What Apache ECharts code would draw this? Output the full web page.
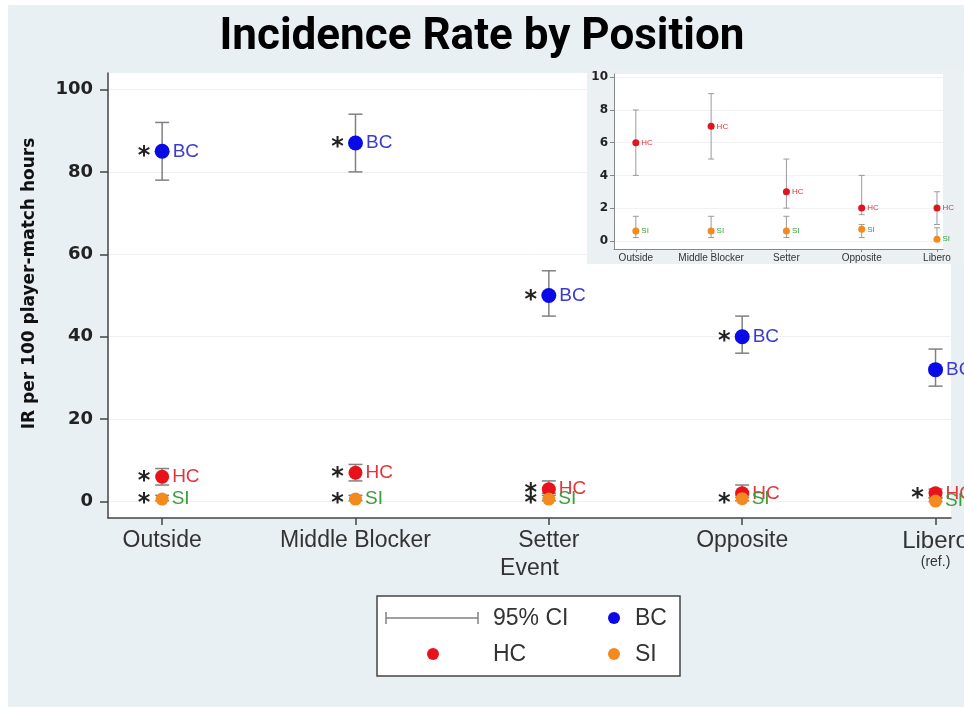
<!DOCTYPE html>
<html>
<head>
<meta charset="utf-8">
<title>Incidence Rate by Position</title>
<script src="https://cdn.jsdelivr.net/npm/echarts@6/dist/echarts.min.js"></script>
<style>
  html, body { margin: 0; padding: 0; background: #ffffff; }
  #chart { width: 964px; height: 707px; }
</style>
</head>
<body>
<div id="chart"></div>
<script>
// positions on the x axis
var categories = ['Outside', 'Middle Blocker', 'Setter', 'Opposite', 'Libero'];
var yTicks = [0, 20, 40, 60, 80, 100];
var insetTicks = [0, 2, 4, 6, 8, 10];

// incidence rate per 100 player-match hours, with 95% CI
var bcRate = [85, 87, 50, 40, 32];
var bcLow = [78, 80, 45, 36, 28];
var bcHigh = [92, 94, 56, 45, 37];

var hcRate = [6, 7, 3, 2, 2];
var hcLow = [4, 5, 2, 1.6, 1];
var hcHigh = [8, 9, 5, 4, 3];

var siRate = [0.6, 0.6, 0.6, 0.7, 0.1];
var siLow = [0.2, 0.2, 0.2, 0.2, 0];
var siHigh = [1.5, 1.5, 1.5, 1.0, 0.8];

// significance marks (*) against the reference position
var bcStar = [1, 1, 1, 1, 0];
var hcStar = [1, 1, 1, 0, 1];
var siStar = [1, 1, 1, 1, 0];

var chart = echarts.init(document.getElementById('chart'));

function points(rate) {
  return rate.map(function (v, i) { return [i, v]; });
}
function ci(low, high) {
  return low.map(function (v, i) { return [i, v, high[i]]; });
}
function stars(rate, flags) {
  var out = [];
  flags.forEach(function (f, i) { if (f) out.push([i, rate[i]]); });
  return out;
}

// error bar drawing
function errorBar(cap, color, width) {
  return function (params, api) {
    var x = api.value(0);
    var p1 = api.coord([x, api.value(1)]);
    var p2 = api.coord([x, api.value(2)]);
    var st = { stroke: color, lineWidth: width };
    return {
      type: 'group',
      children: [
        { type: 'line', shape: { x1: p1[0], y1: p1[1], x2: p2[0], y2: p2[1] }, style: st },
        { type: 'line', shape: { x1: p1[0] - cap, y1: p1[1], x2: p1[0] + cap, y2: p1[1] }, style: st },
        { type: 'line', shape: { x1: p2[0] - cap, y1: p2[1], x2: p2[0] + cap, y2: p2[1] }, style: st }
      ]
    };
  };
}

function starRender(params, api) {
  var p = api.coord([api.value(0), api.value(1)]);
  return {
    type: 'text',
    style: {
      text: '*', x: p[0] - 18, y: p[1] + 5,
      fill: '#222', font: 'bold 24px "DejaVu Sans"',
      align: 'center', verticalAlign: 'middle'
    }
  };
}

var colBC = '#0a0ae6', colHC = '#e8121b', colSI = '#f28a1e';
var labBC = '#3b3bd0', labHC = '#e3343a', labSI = '#3c9c3c';

function scatter(name, data, color, labColor, size, fontSize, xi, z) {
  return {
    name: name, type: 'scatter', xAxisIndex: xi, yAxisIndex: xi, z: z,
    data: data, symbolSize: size, itemStyle: { color: color, opacity: 1 },
    label: {
      show: true, position: 'right', distance: xi ? 2 : 3,
      formatter: name, color: labColor, fontSize: fontSize,
      fontFamily: 'Liberation Sans'
    },
    emphasis: { disabled: true }
  };
}

function bars(data, xi, cap, color, width, z) {
  return {
    type: 'custom', xAxisIndex: xi, yAxisIndex: xi, z: z, silent: true,
    data: data, renderItem: errorBar(cap, color, width),
    encode: { x: 0, y: [1, 2] }
  };
}

var option = {
  backgroundColor: '#e9f0f3',
  animation: false,
  title: {
    text: 'Incidence Rate by Position',
    left: 'center', top: 11,
    textStyle: { fontFamily: 'Roboto', fontWeight: 'bold', fontSize: 44, color: '#000' }
  },
  grid: [
    { left: 108, top: 73, right: 13, bottom: 189, outerBoundsMode: 'none', show: true, backgroundColor: '#ffffff', borderWidth: 0 },
    { left: 614, top: 74, right: 21, bottom: 458, outerBoundsMode: 'none', show: true, backgroundColor: '#ffffff', borderWidth: 0, z: 6 }
  ],
  xAxis: [
    {
      type: 'value', gridIndex: 0, min: -0.28, max: 4.08,
      name: 'Event', nameLocation: 'middle', nameGap: 39, nameMoveOverlap: false,
      nameTextStyle: { fontFamily: 'Liberation Sans', fontSize: 23, color: '#333' },
      axisLine: { show: true, onZero: false, lineStyle: { color: '#444', width: 1.5 } },
      axisTick: { show: true, customValues: [0, 1, 2, 3, 4], length: 7, lineStyle: { color: '#444', width: 1.5 } },
      axisLabel: {
        customValues: [0, 1, 2, 3, 4], margin: 10, hideOverlap: false,
        fontFamily: 'Liberation Sans', fontSize: 23, color: '#333', lineHeight: 26,
        formatter: function (v) {
          var c = categories[Math.round(v)];
          return c === 'Libero' ? '{a|Libero}\n{b|(ref.)}' : c;
        },
        rich: {
          a: { fontFamily: 'Liberation Sans', fontSize: 24, color: '#333', lineHeight: 26 },
          b: { fontFamily: 'Liberation Sans', fontSize: 14, color: '#333', lineHeight: 16 }
        }
      },
      splitLine: { show: false }
    },
    {
      type: 'value', gridIndex: 1, min: -0.29, max: 4.08, z: 6,
      axisLine: { show: true, onZero: false, lineStyle: { color: '#888', width: 1 } },
      axisTick: { show: true, customValues: [0, 1, 2, 3, 4], length: 3, lineStyle: { color: '#888' } },
      axisLabel: {
        customValues: [0, 1, 2, 3, 4], margin: 4,
        fontFamily: 'Liberation Sans', fontSize: 10, color: '#333',
        formatter: function (v) { return categories[Math.round(v)]; }
      },
      splitLine: { show: false }
    }
  ],
  yAxis: [
    {
      type: 'value', gridIndex: 0, min: -4, max: 104,
      name: 'IR per 100 player-match hours', nameLocation: 'middle', nameGap: 70,
      nameTextStyle: { fontFamily: 'DejaVu Sans', fontWeight: 'bold', fontSize: 17, color: '#111', padding: [0, 0, 0, 24] },
      axisLine: { show: true, onZero: false, lineStyle: { color: '#444', width: 1.5 } },
      axisTick: { show: true, customValues: yTicks, length: 8, lineStyle: { color: '#444', width: 1.5 } },
      axisLabel: {
        customValues: yTicks, margin: 15,
        fontFamily: 'DejaVu Sans', fontWeight: 'bold', fontSize: 18, color: '#222'
      },
      splitLine: { show: true, lineStyle: { color: '#eef0f2', width: 1 } }
    },
    {
      type: 'value', gridIndex: 1, min: -0.5, max: 10.2, z: 6,
      axisLine: { show: true, onZero: false, lineStyle: { color: '#888', width: 1 } },
      axisTick: { show: true, customValues: insetTicks, length: 4, lineStyle: { color: '#888' } },
      axisLabel: {
        customValues: insetTicks, margin: 6,
        fontFamily: 'DejaVu Sans', fontWeight: 'bold', fontSize: 12, color: '#222'
      },
      splitLine: { show: true, lineStyle: { color: '#f0f2f4', width: 1 } }
    }
  ],
  series: [
    bars(ci(bcLow, bcHigh), 0, 7, '#808080', 1.5, 2),
    bars(ci(hcLow, hcHigh), 0, 7, '#808080', 1.5, 2),
    bars(ci(siLow, siHigh), 0, 7, '#808080', 1.5, 2),
    scatter('BC', points(bcRate), colBC, labBC, 15, 19, 0, 3),
    scatter('HC', points(hcRate), colHC, labHC, 14, 19, 0, 3),
    scatter('SI', points(siRate), colSI, labSI, 13, 19, 0, 4),
    { type: 'custom', xAxisIndex: 0, yAxisIndex: 0, z: 5, silent: true, data: stars(bcRate, bcStar), renderItem: starRender },
    { type: 'custom', xAxisIndex: 0, yAxisIndex: 0, z: 5, silent: true, data: stars(hcRate, hcStar), renderItem: starRender },
    { type: 'custom', xAxisIndex: 0, yAxisIndex: 0, z: 5, silent: true, data: stars(siRate, siStar), renderItem: starRender },

    bars(ci(hcLow, hcHigh), 1, 3, '#9a9a9a', 1, 7),
    bars(ci(siLow, siHigh), 1, 3, '#9a9a9a', 1, 7),
    scatter('HC', points(hcRate), '#e0141e', labHC, 7, 8, 1, 8),
    scatter('SI', points(siRate), colSI, labSI, 7, 8, 1, 8)
  ],
  graphic: [
    // inset panel
    { type: 'rect', z: 5, shape: { x: 587, y: 68, width: 377, height: 196 }, style: { fill: '#ebf0f3' } },
    // legend box
    {
      type: 'group', z: 10, children: [
        { type: 'rect', shape: { x: 377, y: 596, width: 303, height: 80 }, style: { fill: '#fff', stroke: '#444', lineWidth: 1.5 } },
        { type: 'line', shape: { x1: 386, y1: 618, x2: 478, y2: 618 }, style: { stroke: '#808080', lineWidth: 1.5 } },
        { type: 'line', shape: { x1: 386, y1: 612, x2: 386, y2: 624 }, style: { stroke: '#808080', lineWidth: 1.5 } },
        { type: 'line', shape: { x1: 478, y1: 612, x2: 478, y2: 624 }, style: { stroke: '#808080', lineWidth: 1.5 } },
        { type: 'text', style: { text: '95% CI', x: 493, y: 619, font: '23px "Liberation Sans"', fill: '#333', verticalAlign: 'middle' } },
        { type: 'circle', shape: { cx: 614, cy: 618, r: 6 }, style: { fill: colBC } },
        { type: 'text', style: { text: 'BC', x: 635, y: 619, font: '23px "Liberation Sans"', fill: '#333', verticalAlign: 'middle' } },
        { type: 'circle', shape: { cx: 433, cy: 654, r: 6 }, style: { fill: colHC } },
        { type: 'text', style: { text: 'HC', x: 493, y: 655, font: '23px "Liberation Sans"', fill: '#333', verticalAlign: 'middle' } },
        { type: 'circle', shape: { cx: 614, cy: 654, r: 6 }, style: { fill: colSI } },
        { type: 'text', style: { text: 'SI', x: 635, y: 655, font: '23px "Liberation Sans"', fill: '#333', verticalAlign: 'middle' } }
      ]
    },
    // outer white frame
    { type: 'rect', z: 11, shape: { x: 0, y: 0, width: 8, height: 707 }, style: { fill: '#fff' } },
    { type: 'rect', z: 11, shape: { x: 0, y: 0, width: 964, height: 5 }, style: { fill: '#fff' } }
  ]
};

chart.setOption(option);
window.addEventListener('resize', function () {
  chart.resize();
});
</script>
</body>
</html>
